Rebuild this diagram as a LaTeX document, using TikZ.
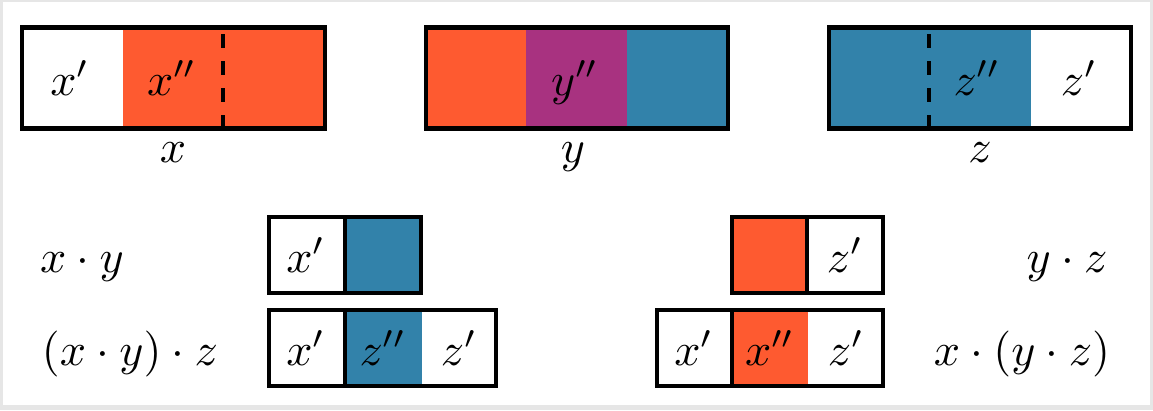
\documentclass[tikz,border=0pt]{standalone}
\definecolor{cor}{RGB}{254,90,48}
\definecolor{cpu}{RGB}{168,50,128}
\definecolor{cbl}{RGB}{50,130,170}
\definecolor{frm}{RGB}{230,230,230}
\tikzset{
  lbl/.style={anchor=base, inner sep=0pt, scale=4.6},
  boxline/.style={line width=4.6pt, line join=miter},
  divline/.style={line width=4.4pt},
  dashline/.style={line width=3.8pt, dash pattern=on 14pt off 13pt}
}
\begin{document}
\begin{tikzpicture}[x=1pt,y=-1pt]
\useasboundingbox (0,0) rectangle (1153,410);
\fill[frm] (0,0) rectangle (1153,410);
\fill[white] (3,2) rectangle (1150,405);
% ---- top row: x
\fill[cor] (123,27.5) rectangle (325,128.5);
\coordinate (xd1) at (223,34);
\coordinate (xd2) at (223,128);
\draw[dashline] (xd1) -- (xd2);
\draw[boxline] (22,27.5) rectangle (325,128.5);
\node[lbl] (xp) at (70,95) {$x'$};
\node[lbl] (xpp) at (172,95) {$x''$};
\node[lbl] (xl) at (173,162) {$x$};
% ---- top row: y
\fill[cor] (426,27.5) rectangle (526,128.5);
\fill[cpu] (526,27.5) rectangle (627,128.5);
\fill[cbl] (627,27.5) rectangle (728,128.5);
\draw[boxline] (426,27.5) rectangle (728,128.5);
\node[lbl] (ypp) at (575,95) {$y''$};
\node[lbl] (yl) at (573,162) {$y$};
% ---- top row: z
\fill[cbl] (829,27.5) rectangle (1031,128.5);
\coordinate (zd1) at (929,34);
\coordinate (zd2) at (929,128);
\draw[dashline] (zd1) -- (zd2);
\draw[boxline] (829,27.5) rectangle (1131,128.5);
\node[lbl] (zpp) at (977,95) {$z''$};
\node[lbl] (zp) at (1079,95) {$z'$};
\node[lbl] (zl) at (980,162) {$z$};
% ---- x . y
\fill[cbl] (345,217) rectangle (421,293);
\draw[divline] (345,217) -- (345,293);
\draw[boxline] (269,217) rectangle (421,293);
\node[lbl] (xy1) at (306,272) {$x'$};
\node[lbl] (lxy) at (82,272) {$x\cdot y$};
% ---- (x . y) . z
\fill[cbl] (345,310) rectangle (422,386);
\draw[divline] (345,310) -- (345,386);
\draw[boxline] (269,310) rectangle (496,386);
\node[lbl] (a1) at (306,365) {$x'$};
\node[lbl] (a2) at (383,365) {$z''$};
\node[lbl] (a3) at (459,365) {$z'$};
\node[lbl] (lxyz) at (130,365) {$(x\cdot y)\cdot z$};
% ---- y . z
\fill[cor] (732,217) rectangle (807,293);
\draw[divline] (807,217) -- (807,293);
\draw[boxline] (732,217) rectangle (883,293);
\node[lbl] (yz1) at (845,272) {$z'$};
\node[lbl] (lyz) at (1067,272) {$y\cdot z$};
% ---- x . (y . z)
\fill[cor] (732,310) rectangle (808,386);
\draw[divline] (732,310) -- (732,386);
\draw[boxline] (657,310) rectangle (883,386);
\node[lbl] (b1) at (694,365) {$x'$};
\node[lbl] (b2) at (770,365) {$x''$};
\node[lbl] (b3) at (846,365) {$z'$};
\node[lbl] (lxyz2) at (1022,365) {$x\cdot(y\cdot z)$};
\end{tikzpicture}
\end{document}
